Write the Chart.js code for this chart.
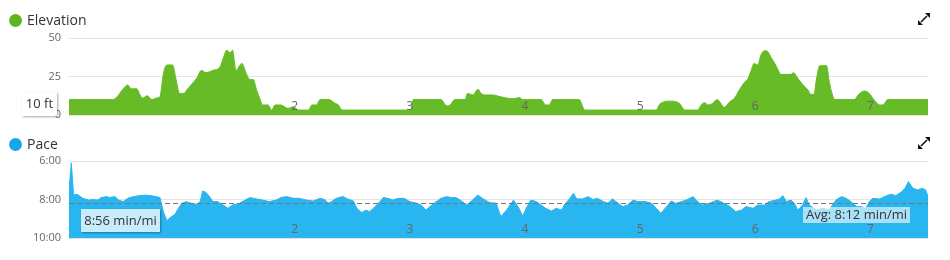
<!DOCTYPE html>
<html>
<head>
<meta charset="utf-8">
<script src="https://cdn.jsdelivr.net/npm/chart.js@4.4.1/dist/chart.umd.min.js"></script>
<style>
  body { margin: 0; background: #fff; font-family: "Open Sans", sans-serif; }
  .panel { position: absolute; left: 0; width: 950px; }
  .legend { position: absolute; left: 9px; font-size: 14px; color: #333; line-height: 14px; }
  .legend i { display: inline-block; width: 13px; height: 13px; border-radius: 50%; vertical-align: -2px; margin-right: 5px; }
  .expand { position: absolute; left: 917px; }
  canvas { position: absolute; left: 0; top: 0; }
</style>
</head>
<body>
<div class="panel" style="top:0;height:125px">
  <canvas id="elevChart" width="950" height="125"></canvas>
  <div class="legend" style="top:13px"><i style="background:#5cb521"></i>Elevation</div>
  <svg class="expand" style="top:12px" width="14" height="14" viewBox="0 0 14 14"><path d="M8 1h5v5z M1 8v5h5z" fill="#111"/><path d="M4 10 L10 4" stroke="#111" stroke-width="1.6"/></svg>
</div>
<div class="panel" style="top:125px;height:135px">
  <canvas id="paceChart" width="950" height="135"></canvas>
  <div class="legend" style="top:12px"><i style="background:#14a7ea"></i>Pace</div>
  <svg class="expand" style="top:11px" width="14" height="14" viewBox="0 0 14 14"><path d="M8 1h5v5z M1 8v5h5z" fill="#111"/><path d="M4 10 L10 4" stroke="#111" stroke-width="1.6"/></svg>
</div>
<script>
// distance in miles, shared tick labels
const xTickMiles = [2, 3, 4, 5, 6, 7];

// Elevation (ft)
const elevTicks = [0, 25, 50];
const elevMiles = [
  0.04, 0.42, 0.46, 0.50, 0.55, 0.58, 0.63, 0.65, 0.68, 0.72, 0.76, 0.80, 0.83, 0.86, 0.89, 0.94, 0.97,
  1.00, 1.04, 1.06, 1.10, 1.15, 1.19, 1.23, 1.29, 1.35, 1.38, 1.41, 1.44, 1.46, 1.49, 1.54, 1.58, 1.61,
  1.64, 1.67, 1.70, 1.72, 1.77, 1.80, 1.83, 1.88, 1.94, 1.99, 2.03, 2.12, 2.15, 2.19, 2.22, 2.30, 2.35,
  2.38, 2.41,
  3.01, 3.03, 3.27, 3.32, 3.35, 3.39, 3.48, 3.50, 3.55, 3.59, 3.62, 3.66, 3.72, 3.78, 3.84, 3.90, 3.95,
  3.98, 4.14, 4.18, 4.21, 4.24, 4.47, 4.52,
  5.14, 5.17, 5.26, 5.34, 5.39, 5.50, 5.53, 5.56, 5.59, 5.63, 5.67, 5.70, 5.73, 5.78, 5.82, 5.86, 5.91,
  5.93, 5.96, 5.99, 6.02, 6.05, 6.08, 6.11, 6.14, 6.17, 6.20, 6.22, 6.31, 6.33, 6.36, 6.38, 6.43, 6.46,
  6.48, 6.51, 6.53, 6.56, 6.62, 6.64, 6.67, 6.69, 6.86, 6.90, 6.95, 6.99, 7.03, 7.08, 7.11, 7.15, 7.50
];
const elevFeet = [
  10, 10, 12, 16, 19.5, 17, 17, 14, 11, 12.5, 10, 11, 12, 27, 32.5, 32.5, 23,
  14, 14, 16, 19.5, 24, 29, 27.5, 29, 31, 37, 42, 40.5, 42, 29, 33.5, 27, 23,
  23, 16, 10, 6.5, 6.5, 3.2, 6.5, 6.5, 4.3, 5.4, 3.2, 3.2, 6.5, 6.5, 10, 10, 7.6,
  6.5, 3.2,
  3.2, 10, 10, 6, 6.5, 10, 10, 14, 13, 16.7, 14, 13, 13, 12, 11, 10.5, 11.3,
  10, 10, 6.5, 6.5, 10, 10, 3.2,
  3.2, 7, 9, 7.6, 3.2, 3.2, 6.5, 8, 6.5, 7.6, 10, 7.6, 5, 8.7, 11, 16, 21.6,
  22.7, 28, 33.5, 32.5, 39, 41.8, 41, 37, 33.5, 29, 26.4, 26.4, 27.5, 25, 22.7, 18.4, 16,
  13.4, 13.4, 22.7, 32, 32, 22.7, 13, 10, 10, 13.6, 15.6, 14, 10, 6.5, 6.5, 10, 10
];
const elevHover = 10;

// Pace (min/mi)
const paceTicks = [6, 8, 10];
const paceMiles = [
  0.04, 0.06, 0.08, 0.11, 0.13, 0.16, 0.21, 0.25, 0.29, 0.32, 0.37, 0.39, 0.44, 0.47, 0.51, 0.55, 0.60,
  0.65, 0.71, 0.77, 0.83, 0.86, 0.89, 0.91, 0.96, 0.99, 1.02, 1.06, 1.10, 1.15, 1.18, 1.20, 1.23, 1.26,
  1.29, 1.33, 1.38, 1.42, 1.46, 1.52, 1.57, 1.61, 1.67, 1.72, 1.78, 1.84, 1.88, 1.93, 1.99, 2.04, 2.10,
  2.16, 2.22, 2.26, 2.29, 2.32, 2.36, 2.42, 2.46, 2.51, 2.54, 2.58, 2.62, 2.65, 2.69, 2.74, 2.77, 2.81,
  2.85, 2.90, 2.95, 3.00, 3.06, 3.10, 3.14, 3.19, 3.23, 3.27, 3.32, 3.36, 3.40, 3.45, 3.49, 3.53, 3.59,
  3.63, 3.69, 3.75, 3.79, 3.84, 3.90, 3.94, 3.98, 4.01, 4.05, 4.10, 4.14, 4.18, 4.23, 4.27, 4.32, 4.34,
  4.39, 4.42, 4.45, 4.50, 4.55, 4.59, 4.63, 4.68, 4.72, 4.76, 4.81, 4.85, 4.89, 4.94, 4.98, 5.04, 5.10,
  5.14, 5.18, 5.23, 5.27, 5.31, 5.36, 5.40, 5.46, 5.50, 5.54, 5.60, 5.67, 5.73, 5.78, 5.83, 5.88, 5.92,
  5.98, 6.02, 6.08, 6.12, 6.18, 6.21, 6.24, 6.27, 6.31, 6.34, 6.37, 6.41, 6.44, 6.47, 6.53, 6.59, 6.64,
  6.70, 6.75, 6.79, 6.83, 6.88, 6.92, 6.96, 6.99, 7.02, 7.08, 7.14, 7.18, 7.22, 7.27, 7.30, 7.33, 7.37,
  7.41, 7.45, 7.48, 7.50
];
const paceMinutes = [
  7.5, 6.1, 7.77, 7.73, 7.8, 7.94, 8.03, 8.0, 8.03, 7.9, 7.85, 7.9, 7.85, 8.03, 8.11, 7.94, 7.85,
  7.8, 7.77, 7.82, 7.9, 8.63, 9.1, 8.98, 8.77, 8.46, 8.2, 8.11, 8.2, 8.25, 8.11, 7.56, 7.63, 7.85,
  8.11, 8.11, 8.29, 8.46, 8.29, 8.2, 8.03, 7.9, 7.97, 8.03, 8.11, 8.03, 7.9, 7.85, 7.94, 7.94, 8.03,
  8.08, 7.94, 8.0, 8.2, 8.11, 7.94, 7.85, 7.97, 8.08, 8.46, 8.68, 8.55, 8.63, 8.42, 8.11, 7.9, 7.94,
  8.03, 7.94, 7.94, 8.11, 8.2, 8.29, 8.55, 8.29, 8.11, 7.94, 7.85, 7.9, 7.9, 8.08, 8.29, 8.11, 7.77,
  7.94, 8.15, 8.2, 8.89, 8.55, 8.03, 8.37, 8.86, 8.46, 8.03, 8.11, 8.29, 8.46, 8.6, 8.46, 8.55, 8.29,
  7.94, 7.68, 7.97, 7.97, 7.85, 8.0, 7.94, 8.11, 8.2, 7.97, 8.2, 8.37, 8.29, 8.03, 8.11, 8.1, 8.2,
  8.46, 8.72, 8.37, 8.08, 8.2, 8.11, 8.03, 7.85, 8.11, 8.29, 8.2, 8.03, 8.2, 8.37, 8.63, 8.55, 8.37,
  8.46, 8.29, 8.29, 8.11, 8.03, 7.97, 7.8, 8.11, 8.03, 8.2, 8.55, 8.29, 7.9, 8.29, 8.55, 8.46, 8.55,
  8.03, 7.85, 7.94, 8.11, 8.37, 8.37, 8.46, 8.11, 7.94, 7.97, 7.8, 7.73, 7.8, 7.6, 7.42, 7.07, 7.42,
  7.5, 7.42, 7.5, 7.85
];
const avgPace = 8.2;       // 8:12
const paceHover = 8.9333;  // 8:56

const xMin = 0.04;
const xMax = 7.5;

Chart.defaults.font.family = "'Open Sans', sans-serif";
Chart.defaults.color = "#666";

function fmtPace(m) {
  const mm = Math.floor(m);
  const ss = Math.round((m - mm) * 60);
  return mm + ":" + String(ss).padStart(2, "0");
}

function toPoints(xs, ys) {
  return xs.map((x, i) => ({ x: x, y: ys[i] }));
}

function xScale() {
  return {
    type: "linear",
    display: false,
    min: xMin,
    max: xMax,
  };
}

// fixed-width y axis, no extra padding so the plot area stays put
function fitYAxis(axis) {
  axis.width = 69;
  axis.paddingTop = 0;
  axis.paddingBottom = 0;
}

// mile labels sit inside the plot, on top of the fill
const mileLabels = {
  id: "mileLabels",
  afterDatasetsDraw(chart) {
    const { ctx, chartArea } = chart;
    const x = chart.scales.x;
    ctx.save();
    ctx.fillStyle = "#666";
    ctx.font = "12px 'Open Sans', sans-serif";
    ctx.textAlign = "center";
    ctx.textBaseline = "middle";
    xTickMiles.forEach((m) => {
      ctx.fillText(String(m), x.getPixelForValue(m), chartArea.bottom - 8);
    });
    ctx.restore();
  },
};

function labelBox(ctx, x, y, w, h, bg, text, shadow) {
  ctx.save();
  if (shadow) {
    ctx.shadowColor = "rgba(0,0,0,0.35)";
    ctx.shadowBlur = 2;
    ctx.shadowOffsetX = 1;
    ctx.shadowOffsetY = 1;
  }
  ctx.fillStyle = bg;
  ctx.fillRect(x, y, w, h);
  ctx.restore();
  ctx.save();
  ctx.fillStyle = "#333";
  ctx.font = "13px 'Open Sans', sans-serif";
  ctx.textBaseline = "middle";
  ctx.textAlign = "center";
  ctx.fillText(text, x + w / 2, y + h / 2 + 0.5);
  ctx.restore();
}

const elevMarks = {
  id: "elevMarks",
  afterDatasetsDraw(chart) {
    const y = chart.scales.y;
    const cy = y.getPixelForValue(elevHover) + 4;
    labelBox(chart.ctx, 22, Math.round(cy - 12), 35, 24, "#fff", elevHover + " ft", true);
  },
};

const paceMarks = {
  id: "paceMarks",
  afterDatasetsDraw(chart) {
    const { ctx, chartArea } = chart;
    const y = chart.scales.y;
    const ya = Math.round(y.getPixelForValue(avgPace)) + 0.5;
    ctx.save();
    ctx.strokeStyle = "#777";
    ctx.lineWidth = 1;
    ctx.setLineDash([5, 3]);
    ctx.beginPath();
    ctx.moveTo(chartArea.left, ya);
    ctx.lineTo(chartArea.right, ya);
    ctx.stroke();
    ctx.restore();

    labelBox(ctx, 803, Math.round(ya + 3), 107, 16, "rgba(255,255,255,0.6)", "Avg: " + fmtPace(avgPace) + " min/mi", false);

    const hy = y.getPixelForValue(paceHover) + 3;
    labelBox(ctx, 81, Math.round(hy - 11.5), 79, 23, "#c8ecfb", fmtPace(paceHover) + " min/mi", true);
  },
};

new Chart(document.getElementById("elevChart"), {
  type: "line",
  data: {
    datasets: [{
      data: toPoints(elevMiles, elevFeet),
      backgroundColor: "#66bb26",
      borderColor: "#66bb26",
      borderWidth: 1,
      pointRadius: 0,
      fill: "start",
      cubicInterpolationMode: "monotone",
    }],
  },
  options: {
    responsive: false,
    animation: false,
    devicePixelRatio: 1,
    layout: { padding: { top: 38, right: 22, bottom: 10, left: 0 } },
    plugins: { legend: { display: false }, tooltip: { enabled: false } },
    scales: {
      x: xScale(),
      y: {
        min: 0,
        max: 50,
        afterBuildTicks: (axis) => {
          axis.ticks = elevTicks.map((v) => ({ value: v }));
        },
        afterFit: fitYAxis,
        grid: { color: "#e4e4e4", drawTicks: false },
        border: { display: false },
        ticks: { color: "#666", font: { size: 11 }, padding: 8 },
      },
    },
  },
  plugins: [mileLabels, elevMarks],
});

new Chart(document.getElementById("paceChart"), {
  type: "line",
  data: {
    datasets: [{
      data: toPoints(paceMiles, paceMinutes),
      backgroundColor: "#29b5f0",
      borderColor: "#29b5f0",
      borderWidth: 1,
      pointRadius: 0,
      fill: "start",
      tension: 0,
    }],
  },
  options: {
    responsive: false,
    animation: false,
    devicePixelRatio: 1,
    layout: { padding: { top: 36, right: 22, bottom: 22, left: 0 } },
    plugins: { legend: { display: false }, tooltip: { enabled: false } },
    scales: {
      x: xScale(),
      y: {
        min: 6,
        max: 10,
        reverse: true,
        afterBuildTicks: (axis) => {
          axis.ticks = paceTicks.map((v) => ({ value: v }));
        },
        afterFit: fitYAxis,
        grid: { color: "#e4e4e4", drawTicks: false },
        border: { display: false },
        ticks: { color: "#666", font: { size: 11 }, padding: 8, callback: (v) => fmtPace(v) },
      },
    },
  },
  plugins: [mileLabels, paceMarks],
});
</script>
</body>
</html>
